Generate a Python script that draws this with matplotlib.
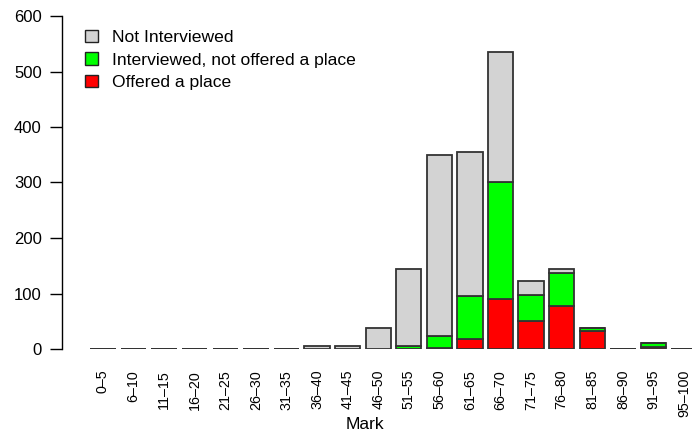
import matplotlib
matplotlib.use('Agg')
import numpy as np
import matplotlib.pyplot as plt
from matplotlib.patches import Patch

plt.rcParams['font.family'] = ['Liberation Sans', 'DejaVu Sans']

# Data
marks = ['0–5', '6–10', '11–15', '16–20', '21–25', '26–30', '31–35', '36–40',
         '41–45', '46–50', '51–55', '56–60', '61–65', '66–70', '71–75', '76–80',
         '81–85', '86–90', '91–95', '95–100']
offered = [0, 0, 0, 0, 0, 0, 0, 0, 0, 0, 0, 2, 18, 90, 50, 77, 32, 0, 4, 0]
interviewed = [0, 0, 0, 0, 0, 0, 0, 0, 0, 0, 5, 22, 77, 210, 47, 60, 6, 0, 6, 0]
not_interviewed = [0, 0, 0, 0, 0, 0, 0, 5, 5, 37, 140, 326, 260, 235, 26, 8, 0, 0, 0, 0]

colors = {'Not Interviewed': '#d3d3d3',
          'Interviewed, not offered a place': '#00ff00',
          'Offered a place': '#ff0000'}

W, H = 692, 432
fig = plt.figure(figsize=(W / 100, H / 100), dpi=100)
ax = fig.add_axes([62 / W, 1 - 349 / H, 630 / W, 333 / H])

x = np.arange(len(marks))
off = np.array(offered)
intv = np.array(interviewed)
notv = np.array(not_interviewed)
bw = 0.83
edge = dict(edgecolor='#333333', linewidth=1.3)

ax.bar(x, off, bw, color=colors['Offered a place'], **edge)
ax.bar(x, intv, bw, bottom=off, color=colors['Interviewed, not offered a place'], **edge)
ax.bar(x, notv, bw, bottom=off + intv, color=colors['Not Interviewed'], **edge)

ax.set_xlim(-1.34, 19.26)
ax.set_ylim(0, 600)
ax.set_yticks(range(0, 601, 100))
ax.set_xticks(x)
ax.set_xticklabels(marks, rotation=90, fontsize=10.3)

for s in ['top', 'right', 'bottom']:
    ax.spines[s].set_visible(False)
ax.spines['left'].set_linewidth(1.0)
ax.tick_params(axis='y', length=9, width=1.0, pad=5.5, labelsize=12)
ax.tick_params(axis='x', length=0, pad=15)

ax.set_xlabel('Mark', fontsize=12.5)
ax.xaxis.set_label_coords((365 - 62) / 630, -0.203)

handles = [Patch(facecolor=c, edgecolor='#222222', linewidth=1.0, label=k)
           for k, c in colors.items()]
fig.legend(handles=handles, loc='upper left', bbox_to_anchor=(85 / W, 1 - 30 / H),
           frameon=False, fontsize=12.6, borderpad=0, borderaxespad=0,
           handlelength=0.72, handleheight=0.72, handletextpad=0.85, labelspacing=0.4)

fig.savefig('out.png', dpi=100)
